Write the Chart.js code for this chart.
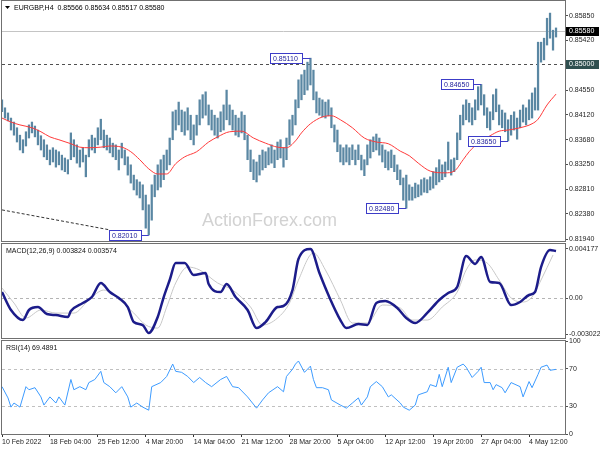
<!DOCTYPE html>
<html>
<head>
<meta charset="utf-8">
<title>EURGBP H4</title>
<script src="https://cdn.jsdelivr.net/npm/chart.js@4.4.1/dist/chart.umd.min.js"></script>
<style>
  html, body { margin: 0; padding: 0; background: #fff; }
  #wrap { position: relative; width: 600px; height: 450px; overflow: hidden; }
  canvas { position: absolute; left: 0; }
</style>
</head>
<body>
<div id="wrap">
  <canvas id="priceChart" width="600" height="243" style="top:0"></canvas>
  <canvas id="macdChart" width="600" height="96" style="top:243px"></canvas>
  <canvas id="rsiChart" width="600" height="114" style="top:336px"></canvas>
</div>
<script>
// time axis: one label every 16 bars
const timeLabels = ["10 Feb 2022", "18 Feb 04:00", "25 Feb 12:00", "4 Mar 20:00", "14 Mar 04:00", "21 Mar 12:00",
    "28 Mar 20:00", "5 Apr 04:00", "12 Apr 12:00", "19 Apr 20:00", "27 Apr 04:00", "4 May 12:00"];

// price bars (high / low)
const highs = [
    0.8438, 0.8424, 0.8415, 0.8406, 0.8399, 0.8389, 0.8376, 0.8368, 0.8382, 0.8394,
    0.8399, 0.8392, 0.8385, 0.8375, 0.8368, 0.8359, 0.8350, 0.8354, 0.8350, 0.8347,
    0.8341, 0.8336, 0.8333, 0.8380, 0.8368, 0.8359, 0.8350, 0.8354, 0.8341, 0.8368,
    0.8376, 0.8371, 0.8389, 0.8404, 0.8385, 0.8376, 0.8371, 0.8362, 0.8359, 0.8350,
    0.8362, 0.8350, 0.8338, 0.8324, 0.8306, 0.8298, 0.8294, 0.8289, 0.8271, 0.8254,
    0.8289, 0.8306, 0.8324, 0.8333, 0.8341, 0.8350, 0.8371, 0.8417, 0.8420, 0.8434,
    0.8420, 0.8417, 0.8424, 0.8411, 0.8394, 0.8411, 0.8438, 0.8447, 0.8452, 0.8429,
    0.8420, 0.8411, 0.8406, 0.8417, 0.8429, 0.8455, 0.8429, 0.8420, 0.8411, 0.8406,
    0.8417, 0.8411, 0.8376, 0.8350, 0.8333, 0.8329, 0.8341, 0.8350, 0.8347, 0.8354,
    0.8359, 0.8350, 0.8364, 0.8368, 0.8354, 0.8371, 0.8403, 0.8411, 0.8438, 0.8473,
    0.8482, 0.8490, 0.8504, 0.8511, 0.8490, 0.8452, 0.8441, 0.8438, 0.8434, 0.8438,
    0.8424, 0.8394, 0.8385, 0.8359, 0.8354, 0.8359, 0.8354, 0.8359, 0.8350, 0.8359,
    0.8341, 0.8333, 0.8359, 0.8368, 0.8373, 0.8378, 0.8371, 0.8359, 0.8350, 0.8347,
    0.8350, 0.8341, 0.8324, 0.8315, 0.8301, 0.8306, 0.8289, 0.8285, 0.8292, 0.8289,
    0.8298, 0.8301, 0.8298, 0.8303, 0.8312, 0.8319, 0.8333, 0.8324, 0.8329, 0.8364,
    0.8333, 0.8336, 0.8380, 0.8411, 0.8429, 0.8438, 0.8432, 0.8424, 0.8438, 0.8461,
    0.8465, 0.8447, 0.8424, 0.8417, 0.8447, 0.8457, 0.8429, 0.8420, 0.8415, 0.8403,
    0.8411, 0.8417, 0.8406, 0.8420, 0.8429, 0.8424, 0.8438, 0.8450, 0.8459, 0.8539,
    0.8539, 0.8546, 0.8581, 0.8590, 0.8560, 0.8564
];
const lows = [
    0.8417, 0.8406, 0.8401, 0.8385, 0.8376, 0.8364, 0.8350, 0.8345, 0.8357, 0.8371,
    0.8380, 0.8373, 0.8359, 0.8350, 0.8338, 0.8333, 0.8324, 0.8329, 0.8320, 0.8324,
    0.8315, 0.8312, 0.8308, 0.8333, 0.8338, 0.8327, 0.8320, 0.8329, 0.8303, 0.8338,
    0.8350, 0.8345, 0.8359, 0.8368, 0.8354, 0.8350, 0.8345, 0.8338, 0.8333, 0.8315,
    0.8336, 0.8324, 0.8306, 0.8292, 0.8280, 0.8271, 0.8266, 0.8245, 0.8213, 0.8201,
    0.8227, 0.8268, 0.8280, 0.8285, 0.8298, 0.8315, 0.8324, 0.8368, 0.8385, 0.8394,
    0.8382, 0.8376, 0.8385, 0.8368, 0.8359, 0.8376, 0.8394, 0.8406, 0.8411, 0.8394,
    0.8385, 0.8376, 0.8371, 0.8382, 0.8385, 0.8403, 0.8394, 0.8385, 0.8376, 0.8373,
    0.8380, 0.8368, 0.8333, 0.8312, 0.8298, 0.8294, 0.8306, 0.8315, 0.8319, 0.8324,
    0.8327, 0.8319, 0.8333, 0.8336, 0.8320, 0.8333, 0.8359, 0.8376, 0.8394, 0.8424,
    0.8438, 0.8447, 0.8455, 0.8464, 0.8438, 0.8415, 0.8411, 0.8408, 0.8406, 0.8410,
    0.8389, 0.8364, 0.8347, 0.8329, 0.8324, 0.8329, 0.8324, 0.8333, 0.8324, 0.8333,
    0.8315, 0.8305, 0.8324, 0.8336, 0.8347, 0.8350, 0.8341, 0.8329, 0.8319, 0.8315,
    0.8319, 0.8312, 0.8298, 0.8289, 0.8262, 0.8248, 0.8262, 0.8262, 0.8266, 0.8268,
    0.8271, 0.8276, 0.8275, 0.8280, 0.8283, 0.8289, 0.8294, 0.8298, 0.8303, 0.8315,
    0.8306, 0.8312, 0.8333, 0.8368, 0.8394, 0.8403, 0.8399, 0.8394, 0.8403, 0.8420,
    0.8429, 0.8411, 0.8389, 0.8385, 0.8403, 0.8417, 0.8394, 0.8389, 0.8382, 0.8366,
    0.8376, 0.8385, 0.8369, 0.8389, 0.8399, 0.8394, 0.8403, 0.8406, 0.8420, 0.8420,
    0.8504, 0.8508, 0.8534, 0.8546, 0.8525, 0.8548
];

// moving average (bar index -> value)
const maBars = [0, 3, 6, 10, 13, 16, 19, 23, 26, 29, 33, 36, 40, 43, 46, 49, 52, 55, 58, 61,
    65, 69, 72, 76, 80, 84, 88, 92, 95, 98, 100, 103, 107, 110, 113, 117, 121, 125, 129, 133,
    136, 139, 143, 148, 151, 154, 156, 159, 163, 166, 169, 173, 177, 179, 182, 185];
const maValues = [0.8406, 0.8399, 0.8394, 0.8389, 0.8382, 0.8373, 0.8368, 0.8361, 0.8355, 0.8354,
    0.8355, 0.8357, 0.8355, 0.8347, 0.8333, 0.8317, 0.8308, 0.8308, 0.8326, 0.8338,
    0.8347, 0.8364, 0.8373, 0.8382, 0.8383, 0.8371, 0.8362, 0.8355, 0.8354, 0.8366,
    0.8380, 0.8396, 0.8408, 0.8410, 0.8403, 0.8389, 0.8371, 0.8364, 0.8361, 0.8348,
    0.8340, 0.8327, 0.8313, 0.8310, 0.8313, 0.8333, 0.8347, 0.8362, 0.8375, 0.8383,
    0.8385, 0.8389, 0.8396, 0.8404, 0.8429, 0.8448];

// dashed trend line and marked swing prices
const trendBars = [0, 36];
const trendPrices = [0.8245, 0.8210];
const markBars = [49, 103, 135, 160, 169];
const markPrices = [0.8201, 0.8511, 0.8248, 0.8465, 0.8365];

const priceTicks = [0.8585, 0.8542, 0.8455, 0.8412, 0.8368, 0.8325, 0.8281, 0.8238, 0.8194];
const lastOHLC = [0.85566, 0.85634, 0.85517, 0.85580];
const levelLine = 0.85;

// MACD(12,26,9)
const macdBars = [0, 3, 7, 9, 12, 15, 18, 22, 23, 27, 30, 33, 36, 39, 42, 44, 47, 49, 52, 54,
    56, 58, 61, 64, 68, 69, 73, 75, 78, 82, 85, 88, 92, 94, 97, 99, 103, 106, 109, 113,
    115, 119, 122, 125, 128, 132, 135, 138, 142, 146, 149, 152, 155, 158, 160, 163, 166, 170, 173, 176,
    178, 180, 183, 185];
const macdValues = [0.00053, -0.00099, -0.00184, -0.00099, -0.00074, -0.00133, -0.00142, -0.00158, -0.00108, -0.00040,
    0.00011, 0.00130, 0.00053, 0.00003, -0.00074, -0.00201, -0.00226, -0.00294, -0.00158, 0.00011,
    0.00155, 0.00299, 0.00299, 0.00197, 0.00214, 0.00121, 0.00053, 0.00121, 0.00011, -0.00099,
    -0.00252, -0.00201, -0.00074, -0.00065, 0.00070, 0.00333, 0.00418, 0.00214, 0.00028, -0.00184,
    -0.00252, -0.00218, -0.00226, -0.00040, -0.00023, -0.00082, -0.00167, -0.00209, -0.00124, -0.00014,
    0.00045, 0.00096, 0.00358, 0.00291, 0.00350, 0.00138, 0.00130, -0.00057, -0.00031, 0.00028,
    0.00053, 0.00265, 0.00409, 0.00400];
const signalBars = [0, 4, 8, 13, 18, 24, 29, 34, 38, 44, 48, 52, 55, 58, 62, 66, 72, 77, 83, 87,
    92, 96, 99, 104, 108, 113, 117, 122, 127, 133, 137, 142, 147, 152, 155, 158, 162, 166, 170, 174,
    177, 180, 184];
const signalValues = [0.00087, -0.00040, -0.00167, -0.00099, -0.00125, -0.00125, -0.00014, 0.00070, 0.00011, -0.00125,
    -0.00226, -0.00252, -0.00074, 0.00130, 0.00265, 0.00240, 0.00130, 0.00070, -0.00074, -0.00226,
    -0.00167, -0.00040, 0.00155, 0.00384, 0.00240, -0.00014, -0.00209, -0.00209, -0.00057, -0.00082,
    -0.00184, -0.00184, -0.00074, 0.00053, 0.00240, 0.00325, 0.00299, 0.00155, 0.00003, -0.00031,
    0.00011, 0.00155, 0.00367];
const macdTicks = [-0.003022, 0, 0.004177];

// RSI(14)
const rsiBars = [0, 2, 3, 4, 6, 8, 9, 11, 13, 14, 16, 18, 19, 21, 23, 24, 26, 28, 29, 31,
    33, 34, 36, 38, 40, 42, 43, 45, 47, 49, 50, 53, 55, 57, 58, 60, 62, 64, 66, 68,
    70, 73, 75, 77, 79, 82, 85, 87, 89, 92, 94, 95, 97, 98, 99, 101, 103, 104, 105, 107,
    109, 110, 113, 115, 117, 119, 120, 122, 123, 125, 127, 129, 130, 133, 134, 136, 138, 139, 142, 143,
    145, 146, 147, 149, 150, 152, 154, 155, 157, 159, 160, 161, 163, 164, 165, 167, 168, 170, 173, 174,
    176, 177, 179, 180, 182, 183, 185];
const rsiValues = [50.9, 38.8, 28.9, 33.3, 28.9, 50.9, 47.6, 49.8, 39.9, 31.1, 39.9, 33.3, 39.9, 31.1, 58.6, 47.6, 50.9, 47.6, 55.3, 58.6,
    67.4, 55.3, 50.9, 44.3, 50.9, 39.9, 28.9, 33.3, 28.9, 25.6, 50.9, 55.3, 61.9, 75.2, 67.4, 66.3, 61.9, 55.3, 60.8, 55.3,
    50.9, 58.6, 61.9, 50.9, 49.8, 39.9, 27.8, 36.6, 44.3, 50.9, 45.4, 61.9, 69.6, 75.2, 78.5, 66.3, 73.0, 58.6, 49.8, 49.8,
    47.6, 36.6, 31.1, 27.8, 33.3, 38.8, 31.1, 39.9, 50.9, 56.4, 50.9, 39.9, 42.1, 33.3, 28.9, 25.6, 31.1, 42.1, 45.4, 53.1,
    50.9, 64.1, 50.9, 71.8, 55.3, 71.8, 75.2, 71.8, 60.8, 67.4, 71.8, 55.3, 55.3, 47.6, 53.1, 49.8, 44.3, 55.3, 50.9, 39.9,
    56.4, 49.8, 64.1, 71.8, 74.1, 68.5, 69.5];
const rsiTicks = [0, 30, 70, 100];
const rsiLevels = [30, 70];

const SLOTS = 189;       // bars plus empty space on the right
const LABEL_EVERY = 16;
const FONT = '"Liberation Sans", Arial, sans-serif';

Chart.defaults.font.family = FONT;
Chart.defaults.font.size = 7;
Chart.defaults.color = "#1e1e1e";
Chart.defaults.animation = false;
Chart.defaults.maintainAspectRatio = false;
Chart.defaults.plugins.legend.display = false;
Chart.defaults.plugins.tooltip.enabled = false;

const slotLabels = [];
for (let i = 0; i < SLOTS; i++) {
    const k = i / LABEL_EVERY;
    slotLabels.push(Number.isInteger(k) && timeLabels[k] ? timeLabels[k] : "");
}

function sparse(bars, values) {
    const out = new Array(SLOTS).fill(null);
    bars.forEach((b, k) => { out[b] = values[k]; });
    return out;
}

function xAxis(show) {
    return {
        type: "category",
        offset: false,
        display: show,
        grid: {
            drawOnChartArea: false,
            tickLength: 3,
            color: ctx => (slotLabels[ctx.index] ? "#303030" : "rgba(0,0,0,0)")
        },
        border: { display: false },
        ticks: {
            autoSkip: false, maxRotation: 0, minRotation: 0, align: "start", padding: 1,
            callback: function (v) { return this.getLabelForValue(v) || ""; }
        },
        afterFit: s => {
            s.height = show ? 16 : 0;
            s.paddingLeft = 0;
            s.paddingRight = 0;
        }
    };
}

function yAxis(min, max, ticks, fmt) {
    return {
        position: "right",
        min: min,
        max: max,
        afterBuildTicks: s => { s.ticks = ticks.map(v => ({ value: v })); },
        afterFit: s => {
            s.width = 35;
            s.paddingTop = 0;
            s.paddingBottom = 0;
        },
        grid: { drawOnChartArea: false, tickLength: 3, color: "#505050" },
        border: { display: false },
        ticks: { padding: 1, callback: fmt }
    };
}

// pane frame
const frame = {
    id: "frame",
    afterDraw(chart) {
        const { ctx, chartArea: a } = chart;
        ctx.save();
        ctx.strokeStyle = "#707070";
        ctx.lineWidth = 1;
        ctx.strokeRect(a.left - 0.5, a.top - 0.5, a.right - a.left + 1, a.bottom - a.top + 1);
        ctx.restore();
    }
};

function hLine(ctx, a, y, color, dash) {
    ctx.save();
    ctx.strokeStyle = color;
    ctx.lineWidth = 1;
    ctx.setLineDash(dash);
    ctx.beginPath();
    ctx.moveTo(a.left, Math.round(y) + 0.5);
    ctx.lineTo(a.right, Math.round(y) + 0.5);
    ctx.stroke();
    ctx.restore();
}

function paneLabel(ctx, a, text) {
    ctx.save();
    ctx.font = "7px " + FONT;
    ctx.fillStyle = "#111";
    ctx.textBaseline = "middle";
    ctx.fillText(text, a.left + 4, a.top + 7);
    ctx.restore();
}

const priceDecor = {
    id: "priceDecor",
    beforeDatasetsDraw(chart) {
        const { ctx, chartArea: a, scales } = chart;
        ctx.save();
        ctx.font = "18px " + FONT;
        ctx.fillStyle = "#d2d2d2";
        ctx.fillText("ActionForex.com", 202, 226);
        ctx.restore();
        hLine(ctx, a, scales.y.getPixelForValue(lastOHLC[3]), "#c4c4c4", []);
        hLine(ctx, a, scales.y.getPixelForValue(levelLine), "#505050", [3, 3]);
    },
    afterDraw(chart) {
        const { ctx, chartArea: a, scales } = chart;
        const xs = scales.x, ys = scales.y;
        ctx.save();
        ctx.font = "7px " + FONT;
        ctx.textBaseline = "middle";

        // marked swing highs / lows
        markBars.forEach((b, k) => {
            const x = xs.getPixelForValue(b);
            const y = Math.round(ys.getPixelForValue(markPrices[k]));
            const w = 32, h = 10, right = Math.round(x) - 8;
            ctx.strokeStyle = "#3c3cc8";
            ctx.lineWidth = 1;
            ctx.beginPath();
            ctx.moveTo(right, y + 0.5);
            ctx.lineTo(x, y + 0.5);
            ctx.stroke();
            ctx.fillStyle = "#fff";
            ctx.fillRect(right - w, y - h / 2, w, h);
            ctx.strokeRect(right - w + 0.5, y - h / 2 + 0.5, w, h);
            ctx.fillStyle = "#24249c";
            ctx.fillText(markPrices[k].toFixed(5), right - w + 3, y + 1);
        });

        // current price and level boxes on the axis
        [[lastOHLC[3], "#000000"], [levelLine, "#2f4f4f"]].forEach(([v, bg]) => {
            const y = Math.round(ys.getPixelForValue(v));
            ctx.fillStyle = bg;
            ctx.fillRect(a.right + 1, y - 4, 33, 9);
            ctx.fillStyle = "#fff";
            ctx.fillText(v.toFixed(5), a.right + 4, y + 0.5);
        });

        // title
        ctx.fillStyle = "#000";
        ctx.beginPath();
        ctx.moveTo(5, 6); ctx.lineTo(10, 6); ctx.lineTo(7.5, 9);
        ctx.closePath();
        ctx.fill();
        ctx.fillText("EURGBP,H4  " + lastOHLC.map(v => v.toFixed(5)).join(" "), 14, 8);
        ctx.restore();
    }
};

new Chart(document.getElementById("priceChart"), {
    type: "bar",
    data: {
        labels: slotLabels,
        datasets: [
            { type: "line", data: sparse(maBars, maValues), borderColor: "#ff3a3a", borderWidth: 1,
              pointRadius: 0, spanGaps: true, cubicInterpolationMode: "monotone" },
            { type: "line", data: sparse(trendBars, trendPrices), borderColor: "#333", borderWidth: 1,
              borderDash: [3, 2], pointRadius: 0, spanGaps: true },
            { type: "bar", data: highs.map((h, i) => [lows[i], h]), backgroundColor: "#5a87a3",
              barThickness: 1.6, borderWidth: 0 }
        ]
    },
    options: {
        responsive: false,
        layout: { padding: { left: 2, top: 1, right: 0, bottom: 2 } },
        scales: {
            x: xAxis(false),
            y: yAxis(0.81905, 0.86112, priceTicks, v => v.toFixed(5))
        }
    },
    plugins: [priceDecor, frame]
});

const macdDecor = {
    id: "macdDecor",
    beforeDatasetsDraw(chart) {
        hLine(chart.ctx, chart.chartArea, chart.scales.y.getPixelForValue(0), "#b4b4b4", [3, 3]);
    },
    afterDraw(chart) {
        paneLabel(chart.ctx, chart.chartArea, "MACD(12,26,9) 0.003824 0.003574");
    }
};

new Chart(document.getElementById("macdChart"), {
    type: "line",
    data: {
        labels: slotLabels,
        datasets: [
            { data: sparse(macdBars, macdValues), borderColor: "#1c1c8a", borderWidth: 2.5,
              pointRadius: 0, spanGaps: true, cubicInterpolationMode: "monotone" },
            { data: sparse(signalBars, signalValues), borderColor: "#c8c8c8", borderWidth: 1,
              pointRadius: 0, spanGaps: true, cubicInterpolationMode: "monotone" }
        ]
    },
    options: {
        responsive: false,
        layout: { padding: { left: 2, top: 1, right: 0, bottom: 1 } },
        scales: {
            x: xAxis(false),
            y: yAxis(-0.00336, 0.00460, macdTicks, v => (v === 0 ? "0.00" : v.toFixed(6)))
        }
    },
    plugins: [macdDecor, frame]
});

const rsiDecor = {
    id: "rsiDecor",
    beforeDatasetsDraw(chart) {
        rsiLevels.forEach(l => hLine(chart.ctx, chart.chartArea, chart.scales.y.getPixelForValue(l), "#c0c0c0", [3, 3]));
    },
    afterDraw(chart) {
        paneLabel(chart.ctx, chart.chartArea, "RSI(14) 69.4891");
    }
};

new Chart(document.getElementById("rsiChart"), {
    type: "line",
    data: {
        labels: slotLabels,
        datasets: [
            { data: sparse(rsiBars, rsiValues), borderColor: "#3d9bff", borderWidth: 1,
              pointRadius: 0, spanGaps: true }
        ]
    },
    options: {
        responsive: false,
        layout: { padding: { left: 2, top: 5, right: 0, bottom: 0 } },
        scales: {
            x: xAxis(true),
            y: yAxis(0, 100, rsiTicks, v => String(v))
        }
    },
    plugins: [rsiDecor, frame]
});
</script>
</body>
</html>
